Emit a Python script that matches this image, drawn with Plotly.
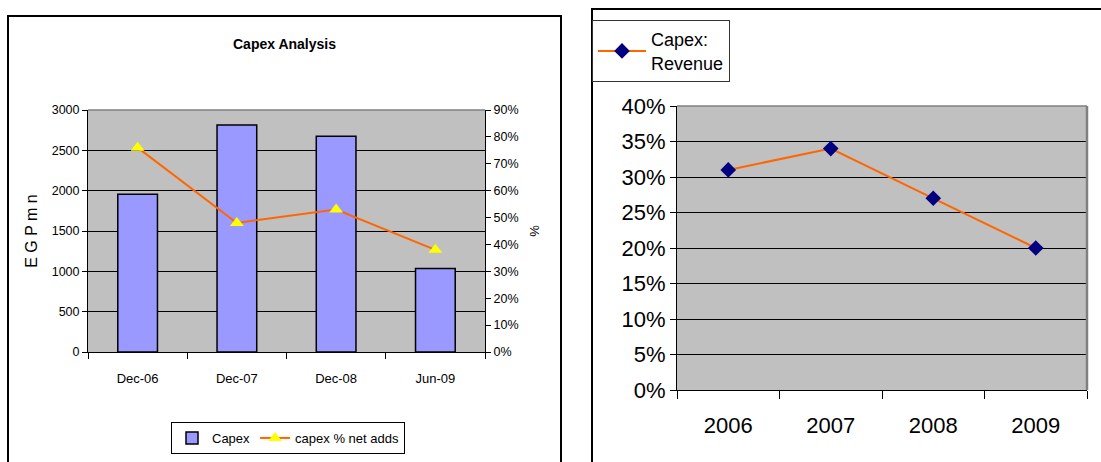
import plotly.graph_objects as go

W, H = 1101, 462

# ---- data ----
periods = ["Dec-06", "Dec-07", "Dec-08", "Jun-09"]
capex_egp = [1955, 2815, 2675, 1035]
capex_pct_net_adds = [0.76, 0.48, 0.53, 0.38]

years = ["2006", "2007", "2008", "2009"]
capex_revenue = [0.31, 0.34, 0.27, 0.20]

left_ticks = [0, 500, 1000, 1500, 2000, 2500, 3000]
pct_ticks = [0, 0.1, 0.2, 0.3, 0.4, 0.5, 0.6, 0.7, 0.8, 0.9]
rev_ticks = [0, 0.05, 0.10, 0.15, 0.20, 0.25, 0.30, 0.35, 0.40]


def px(x):
    return x / W


def py(y):
    return 1 - y / H


SANS = "Liberation Sans, Arial, sans-serif"
GRID = "#000000"
BG = "#C0C0C0"

fig = go.Figure()

fig.add_trace(go.Bar(
    x=periods, y=capex_egp, name="Capex",
    marker=dict(color="#9999FF", line=dict(color="#000000", width=1.5)),
    width=0.4, xaxis="x", yaxis="y", legend="legend",
))
fig.add_trace(go.Scatter(
    x=periods, y=capex_pct_net_adds, name="capex % net adds", mode="lines+markers",
    line=dict(color="#FF6600", width=2),
    marker=dict(symbol="triangle-up", color="#FFFF00", size=12),
    xaxis="x", yaxis="y2", legend="legend",
))
fig.add_trace(go.Scatter(
    x=years, y=capex_revenue, name="Capex:<br>Revenue", mode="lines+markers",
    line=dict(color="#FF6600", width=2),
    marker=dict(symbol="diamond", color="#000080", size=12),
    xaxis="x3", yaxis="y3", legend="legend2",
))

shapes = [
    # chart frames
    dict(type="rect", xref="paper", yref="paper", x0=px(8), x1=px(561), y0=py(475), y1=py(16),
         line=dict(color="black", width=2), fillcolor="rgba(0,0,0,0)", layer="above"),
    dict(type="rect", xref="paper", yref="paper", x0=px(592), x1=px(1110), y0=py(475), y1=py(9),
         line=dict(color="black", width=2), fillcolor="rgba(0,0,0,0)", layer="above"),
    # left plot top border
    dict(type="line", xref="paper", yref="paper", x0=px(88), x1=px(485), y0=py(110), y1=py(110),
         line=dict(color="#808080", width=1.5)),
    # right plot top/right borders
    dict(type="line", xref="paper", yref="paper", x0=px(677), x1=px(1087), y0=py(106), y1=py(106),
         line=dict(color="#808080", width=1.5)),
    dict(type="line", xref="paper", yref="paper", x0=px(1087), x1=px(1087), y0=py(106), y1=py(390),
         line=dict(color="#808080", width=2.5)),
]

annotations = [
    dict(text="<b>Capex Analysis</b>", xref="paper", yref="paper", x=px(284), y=py(44),
         showarrow=False, font=dict(family=SANS, size=14, color="black"),
         xanchor="center", yanchor="middle"),
]

fig.update_layout(
    width=W, height=H,
    margin=dict(l=0, r=0, t=0, b=0, autoexpand=False),
    paper_bgcolor="white",
    plot_bgcolor=BG,
    showlegend=True,
    bargap=0.6,
    shapes=shapes,
    annotations=annotations,
    xaxis=dict(
        domain=[px(88), px(485)], anchor="y", type="category", range=[-0.5, 3.5],
        tickson="boundaries", ticks="outside", ticklen=6, tickcolor="black",
        showline=True, linecolor="black", linewidth=1, showgrid=False,
        tickfont=dict(family=SANS, size=13, color="black"), ticklabelstandoff=14,
        automargin=False,
    ),
    yaxis=dict(
        domain=[py(352), py(110)], anchor="x", range=[0, 3000], tickvals=left_ticks,
        ticks="outside", ticklen=5, tickcolor="black",
        showline=True, linecolor="black", linewidth=1,
        showgrid=True, gridcolor=GRID, gridwidth=1, zeroline=False,
        tickfont=dict(family=SANS, size=12.5, color="black"),
        title=dict(text="E G P m n", font=dict(family=SANS, size=16, color="black"), standoff=10),
        automargin=False,
    ),
    yaxis2=dict(
        overlaying="y", side="right", anchor="x", range=[0, 0.9], tickvals=pct_ticks,
        tickformat=".0%", ticks="outside", ticklen=5, tickcolor="black",
        showline=True, linecolor="black", linewidth=1, showgrid=False, zeroline=False,
        tickfont=dict(family=SANS, size=12.5, color="black"),
        title=dict(text="%", font=dict(family=SANS, size=13, color="black"), standoff=12),
        automargin=False,
    ),
    xaxis3=dict(
        domain=[px(677), px(1087)], anchor="y3", type="category", range=[-0.5, 3.5],
        tickson="boundaries", ticks="outside", ticklen=8, tickcolor="black",
        showline=True, linecolor="black", linewidth=1, showgrid=False,
        tickfont=dict(family=SANS, size=22, color="black"), ticklabelstandoff=16,
        automargin=False,
    ),
    yaxis3=dict(
        domain=[py(390), py(106)], anchor="x3", range=[0, 0.40], tickvals=rev_ticks,
        tickformat=".0%", ticks="outside", ticklen=6, tickcolor="black",
        showline=True, linecolor="black", linewidth=1,
        showgrid=True, gridcolor=GRID, gridwidth=1, zeroline=False,
        tickfont=dict(family=SANS, size=22, color="black"),
        automargin=False,
    ),
    legend=dict(
        x=px(171), y=py(422), xanchor="left", yanchor="top", orientation="h",
        bordercolor="black", borderwidth=1, bgcolor="white",
        font=dict(family=SANS, size=13, color="black"),
        itemwidth=30, traceorder="normal",
    ),
    legend2=dict(
        x=px(592), y=py(20), xanchor="left", yanchor="top",
        bordercolor="#333333", borderwidth=1, bgcolor="white",
        font=dict(family=SANS, size=18, color="black"),
        itemwidth=48,
    ),
)

fig.write_html("out.html")
